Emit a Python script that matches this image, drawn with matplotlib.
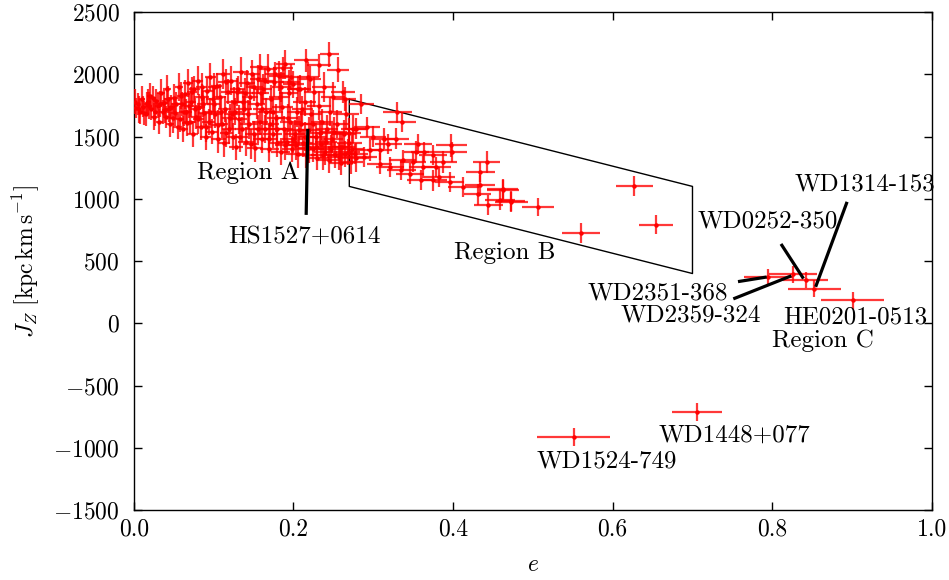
import matplotlib
matplotlib.use("Agg")
import matplotlib.pyplot as plt

plt.rcParams['font.family'] = 'serif'
plt.rcParams['font.serif'] = ['cmr10']
plt.rcParams['mathtext.fontset'] = 'cm'
plt.rcParams['axes.formatter.use_mathtext'] = True
plt.rcParams['font.size'] = 17

# Region A cloud (eccentricity, error, J_Z, error)
cloud_e = [0.005, 0.008, 0.010, 0.012, 0.015, 0.018, 0.020, 0.022, 0.025, 0.028, 0.030, 0.003, 0.016,
           0.032, 0.034, 0.036, 0.038, 0.040, 0.042, 0.045, 0.047, 0.050, 0.052, 0.055, 0.057, 0.060, 0.044, 0.058,
           0.062, 0.064, 0.066, 0.068, 0.070, 0.072, 0.074, 0.076, 0.078, 0.080, 0.082, 0.084, 0.086, 0.088, 0.090, 0.069, 0.085,
           0.092, 0.094, 0.096, 0.098, 0.100, 0.102, 0.104, 0.106, 0.108, 0.110, 0.112, 0.114, 0.116, 0.118, 0.120, 0.099, 0.113,
           0.122, 0.124, 0.126, 0.128, 0.130, 0.132, 0.134, 0.136, 0.138, 0.140, 0.142, 0.144, 0.146, 0.148, 0.150, 0.127, 0.139,
           0.152, 0.154, 0.156, 0.158, 0.160, 0.162, 0.164, 0.166, 0.168, 0.170, 0.172, 0.174, 0.176, 0.178, 0.180, 0.159, 0.171,
           0.182, 0.184, 0.186, 0.188, 0.190, 0.192, 0.194, 0.196, 0.198, 0.200, 0.202, 0.204, 0.206, 0.208, 0.210, 0.185, 0.199,
           0.212, 0.214, 0.216, 0.218, 0.220, 0.222, 0.224, 0.226, 0.228, 0.230, 0.232, 0.234, 0.236, 0.238, 0.240,
           0.242, 0.244, 0.246, 0.248, 0.250, 0.252, 0.255, 0.258, 0.260, 0.263, 0.266, 0.268, 0.270, 0.272, 0.275,
           0.245, 0.232, 0.256, 0.216, 0.221, 0.187, 0.177, 0.195, 0.206, 0.262, 0.264, 0.158,
           0.001, 0.006, 0.013, 0.019, 0.024, 0.027, 0.033, 0.039, 0.043, 0.049, 0.053, 0.059, 0.063, 0.067, 0.073,
           0.077, 0.081, 0.087, 0.091, 0.095, 0.101, 0.105, 0.109, 0.115, 0.119, 0.123, 0.129, 0.133, 0.137, 0.143,
           0.147, 0.151, 0.155, 0.161, 0.165, 0.169, 0.175, 0.179, 0.183, 0.189, 0.193, 0.197, 0.203, 0.207, 0.211,
           0.215, 0.219, 0.225, 0.229, 0.233, 0.237, 0.241, 0.247, 0.251, 0.257, 0.261, 0.265, 0.269, 0.273, 0.278]
cloud_jz = [1760, 1700, 1800, 1740, 1680, 1780, 1830, 1720, 1660, 1790, 1750, 1730, 1760,
            1620, 1850, 1700, 1770, 1660, 1880, 1600, 1740, 1810, 1690, 1580, 1900, 1760, 1720, 1640,
            1560, 1840, 1700, 1930, 1620, 1780, 1520, 1880, 1660, 1950, 1740, 1580, 1820, 1690, 1500, 1750, 1900,
            1870, 1620, 1980, 1540, 1760, 1680, 1910, 1480, 1820, 1600, 2000, 1720, 1530, 1860, 1650, 1800, 1450,
            1950, 1500, 1780, 1420, 1880, 1640, 2020, 1560, 1720, 1460, 1930, 1600, 1820, 2000, 1520, 1700, 1850,
            1410, 1760, 1960, 1620, 1480, 1880, 1560, 1700, 2040, 1400, 1800, 1520, 1940, 1650, 1450, 1850, 1600,
            1990, 1380, 1740, 1560, 2080, 1460, 1850, 1620, 1400, 1920, 1520, 1700, 1360, 1880, 1600, 1900, 1480,
            1450, 1780, 1350, 1980, 1550, 1680, 1400, 1860, 1500, 1330, 1750, 1440, 1620, 1900, 1380,
            1560, 1310, 1700, 1480, 1820, 1350, 1600, 1420, 1290, 1520, 1680, 1380, 1450, 1300, 1560,
            2161, 2072, 2037, 2112, 1965, 2053, 2005, 1938, 1885, 1858, 1800, 2060,
            1780, 1720, 1690, 1750, 1810, 1700, 1760, 1710, 1800, 1650, 1760, 1830, 1700, 1610, 1860,
            1720, 1640, 1760, 1580, 1700, 1900, 1590, 1700, 1940, 1560, 1680, 1860, 1500, 1780, 1680,
            1440, 1900, 1560, 1720, 1950, 1480, 1700, 1560, 1820, 1430, 1650, 1980, 1430, 1550, 1720,
            1500, 1410, 1600, 1420, 1530, 1350, 1460, 1400, 1540, 1340, 1420, 1360, 1530, 1400, 1330]
cloud_e_err = [0.003, 0.003, 0.004, 0.003, 0.004, 0.003, 0.004, 0.003, 0.004, 0.004, 0.004, 0.003, 0.003,
               0.004, 0.005, 0.004, 0.005, 0.004, 0.005, 0.005, 0.004, 0.005, 0.005, 0.006, 0.005, 0.006, 0.005, 0.005,
               0.006, 0.006, 0.007, 0.006, 0.007, 0.006, 0.007, 0.007, 0.006, 0.007, 0.007, 0.006, 0.008, 0.007, 0.007, 0.006, 0.007,
               0.007, 0.008, 0.007, 0.008, 0.008, 0.008, 0.007, 0.009, 0.008, 0.008, 0.009, 0.008, 0.008, 0.009, 0.009, 0.008, 0.008,
               0.009, 0.009, 0.010, 0.009, 0.009, 0.010, 0.010, 0.009, 0.010, 0.010, 0.010, 0.011, 0.010, 0.010, 0.011, 0.009, 0.010,
               0.010, 0.011, 0.011, 0.010, 0.011, 0.011, 0.012, 0.011, 0.011, 0.012, 0.011, 0.012, 0.012, 0.011, 0.012, 0.011, 0.011,
               0.012, 0.012, 0.013, 0.012, 0.012, 0.013, 0.012, 0.013, 0.012, 0.013, 0.013, 0.012, 0.013, 0.014, 0.013, 0.012, 0.013,
               0.013, 0.014, 0.013, 0.014, 0.013, 0.014, 0.014, 0.013, 0.014, 0.014, 0.015, 0.014, 0.014, 0.015, 0.014,
               0.014, 0.015, 0.015, 0.014, 0.015, 0.015, 0.016, 0.015, 0.015, 0.016, 0.016, 0.015, 0.016, 0.015, 0.016,
               0.012, 0.015, 0.014, 0.015, 0.014, 0.013, 0.012, 0.013, 0.014, 0.015, 0.015, 0.012,
               0.003, 0.003, 0.004, 0.004, 0.004, 0.003, 0.005, 0.004, 0.005, 0.005, 0.006, 0.005, 0.006, 0.007, 0.006,
               0.007, 0.007, 0.008, 0.007, 0.008, 0.008, 0.009, 0.008, 0.009, 0.009, 0.010, 0.009, 0.010, 0.010, 0.011,
               0.010, 0.011, 0.011, 0.012, 0.011, 0.012, 0.012, 0.012, 0.013, 0.012, 0.013, 0.013, 0.013, 0.014, 0.013,
               0.014, 0.013, 0.014, 0.015, 0.014, 0.015, 0.014, 0.015, 0.016, 0.015, 0.016, 0.015, 0.016, 0.016, 0.017]
cloud_jz_err = [90, 100, 110, 85, 95, 105, 100, 90, 110, 95, 100, 80, 95,
                100, 110, 95, 105, 90, 115, 100, 95, 110, 105, 100, 110, 95, 100, 105,
                105, 115, 100, 110, 100, 120, 105, 110, 95, 115, 105, 110, 100, 120, 105, 100, 110,
                110, 105, 115, 100, 120, 110, 105, 115, 100, 110, 120, 105, 110, 100, 115, 105, 110,
                115, 110, 120, 105, 110, 115, 120, 100, 110, 115, 105, 120, 110, 115, 105, 110, 120,
                110, 120, 115, 105, 110, 120, 115, 110, 120, 105, 115, 110, 120, 115, 110, 105, 115,
                120, 110, 115, 105, 120, 110, 115, 120, 105, 110, 115, 120, 110, 115, 105, 120, 110,
                110, 115, 105, 120, 110, 115, 105, 120, 110, 100, 115, 110, 105, 120, 110,
                110, 105, 115, 110, 120, 105, 110, 115, 100, 110, 115, 105, 110, 100, 115,
                100, 95, 100, 95, 100, 90, 95, 100, 95, 90, 95, 100,
                100, 110, 95, 105, 100, 115, 105, 100, 110, 120, 100, 110, 115, 105, 120,
                110, 115, 105, 120, 110, 115, 120, 110, 105, 120, 115, 110, 120, 105, 115,
                120, 110, 115, 120, 105, 115, 120, 110, 115, 120, 110, 105, 120, 115, 110,
                115, 120, 110, 115, 105, 120, 110, 115, 120, 110, 115, 105, 120, 110, 115]

# Region B stars
b_e = [0.285, 0.330, 0.336, 0.398, 0.399, 0.442, 0.434, 0.434, 0.462, 0.459, 0.472, 0.444, 0.431, 0.413,
       0.396, 0.375, 0.356, 0.354, 0.364, 0.375, 0.388, 0.379, 0.362, 0.350, 0.337, 0.329, 0.319, 0.313,
       0.308, 0.296, 0.292, 0.279, 0.277, 0.288, 0.308, 0.321, 0.335, 0.346, 0.360, 0.383, 0.300, 0.463,
       0.473, 0.506, 0.560, 0.627, 0.654]
b_jz = [1765, 1697, 1617, 1430, 1375, 1296, 1215, 1108, 1076, 993, 982, 948, 1036, 1095,
        1135, 1149, 1443, 1376, 1376, 1349, 1296, 1255, 1256, 1296, 1309, 1483, 1443, 1483,
        1390, 1390, 1577, 1563, 1363, 1336, 1283, 1256, 1229, 1202, 1149, 1175, 1500, 1074,
        974, 934, 725, 1100, 793]
b_e_err = [0.016, 0.018, 0.017, 0.019, 0.018, 0.017, 0.018, 0.019, 0.020, 0.019, 0.018, 0.018, 0.017, 0.019,
           0.018, 0.017, 0.018, 0.016, 0.017, 0.018, 0.017, 0.018, 0.017, 0.016, 0.017, 0.016, 0.017, 0.018,
           0.016, 0.017, 0.016, 0.015, 0.016, 0.017, 0.016, 0.017, 0.018, 0.017, 0.018, 0.019, 0.016, 0.020,
           0.021, 0.020, 0.024, 0.023, 0.021]
b_jz_err = [80, 85, 80, 90, 80, 85, 80, 85, 80, 85, 80, 80, 85, 80,
            80, 85, 80, 85, 80, 80, 85, 80, 85, 80, 80, 85, 80, 85,
            80, 85, 80, 85, 80, 80, 85, 80, 80, 85, 80, 80, 85, 80,
            80, 75, 80, 80, 75]

# Region C and halo stars
c_e = [0.795, 0.826, 0.842, 0.8525, 0.9006, 0.7055, 0.551]
c_jz = [372, 393, 351, 278, 185, -712, -913]
c_e_err = [0.031, 0.030, 0.028, 0.033, 0.039, 0.031, 0.046]
c_jz_err = [67, 67, 65, 70, 67, 72, 75]

region_b_e = [0.27, 0.70, 0.70, 0.27, 0.27]
region_b_jz = [1800, 1100, 400, 1100, 1800]

fig = plt.figure(figsize=(9.49, 5.80), dpi=100)
ax = fig.add_axes([0.141, 0.1207, 0.841, 0.8583])

style = dict(fmt='o', ms=2.2, color='red', ecolor=(1, 0, 0, 0.78),
             elinewidth=1.6, capsize=0, mec='red', zorder=3)
ax.errorbar(cloud_e, cloud_jz, xerr=cloud_e_err, yerr=cloud_jz_err, **style)
ax.errorbar(b_e, b_jz, xerr=b_e_err, yerr=b_jz_err, **style)
ax.errorbar(c_e, c_jz, xerr=c_e_err, yerr=c_jz_err, **style)

ax.plot(region_b_e, region_b_jz, color='black', lw=1.0, zorder=2)

# labels and pointer lines
lw = 2.3
ax.plot([0.218, 0.216], [1550, 884], color='black', lw=lw, zorder=4)
ax.plot([0.893, 0.855], [964, 305], color='black', lw=lw, zorder=4)
ax.plot([0.812, 0.838], [627, 370], color='black', lw=lw, zorder=4)
ax.plot([0.759, 0.791], [337, 370], color='black', lw=lw, zorder=4)
ax.plot([0.753, 0.822], [201, 377], color='black', lw=lw, zorder=4)

labels = [
    ("Region A", 0.144, 1213),
    ("HS1527+0614", 0.214, 699),
    ("Region B", 0.465, 562),
    ("WD1314-153", 0.916, 1116),
    ("WD0252-350", 0.794, 819),
    ("WD2351-368", 0.656, 241),
    ("WD2359-324", 0.698, 64),
    ("HE0201-0513", 0.904, 48),
    ("Region C", 0.863, -137),
    ("WD1448+077", 0.753, -900),
    ("WD1524-749", 0.593, -1108),
]
for txt, x, y in labels:
    ax.text(x, y, txt, ha='center', va='center', fontsize=18, zorder=5)

ax.set_xlim(0, 1.0)
ax.set_ylim(-1500, 2500)
ax.set_xticks([0.0, 0.2, 0.4, 0.6, 0.8, 1.0])
ax.set_xticklabels(['0.0', '0.2', '0.4', '0.6', '0.8', '1.0'])
ax.set_yticks(range(-1500, 2501, 500))
ax.tick_params(direction='in', top=True, right=True, length=6, width=1.0)
ax.tick_params(axis='x', pad=6)
ax.tick_params(axis='y', pad=10)
ax.set_xlabel(r'$e$', labelpad=10)
ax.set_ylabel(r'$J_Z\ [\mathrm{kpc\,km\,s^{-1}}]$', labelpad=8)
for s in ax.spines.values():
    s.set_linewidth(1.0)

fig.savefig('out.png', dpi=100)
